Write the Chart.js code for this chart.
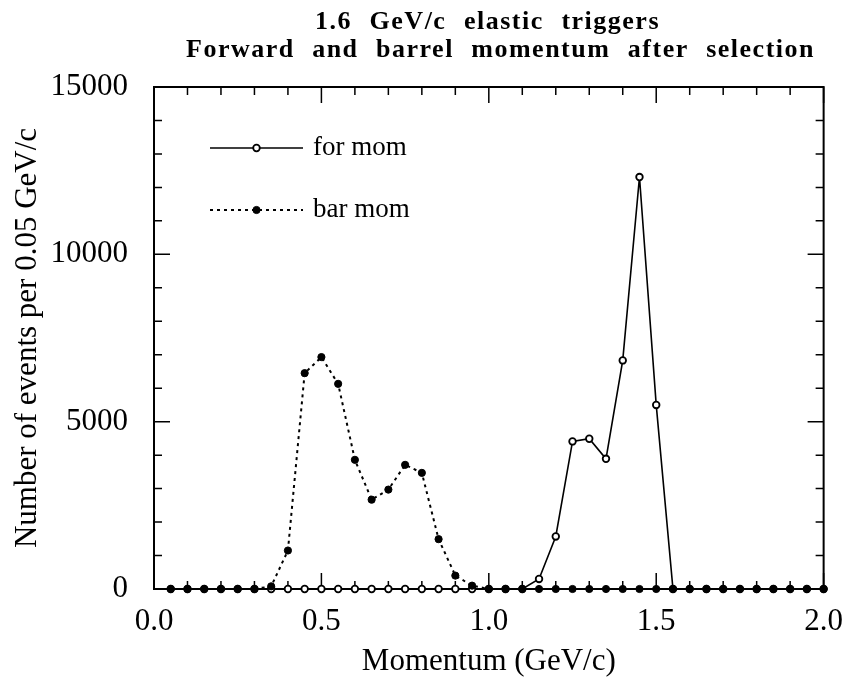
<!DOCTYPE html>
<html lang="en">
<head>
<meta charset="UTF-8">
<title>1.6 GeV/c elastic triggers</title>
<script src="https://cdn.jsdelivr.net/npm/chart.js"></script>
<style>
    html, body { margin: 0; padding: 0; background: #fff; }
</style>
</head>
<body>
<canvas id="grafico" width="857" height="684"></canvas>
<script>
// bin centres, 0.05 GeV/c wide
const momentum = [0.05, 0.10, 0.15, 0.20, 0.25, 0.30, 0.35, 0.40, 0.45, 0.50,
                  0.55, 0.60, 0.65, 0.70, 0.75, 0.80, 0.85, 0.90, 0.95, 1.00,
                  1.05, 1.10, 1.15, 1.20, 1.25, 1.30, 1.35, 1.40, 1.45, 1.50,
                  1.55, 1.60, 1.65, 1.70, 1.75, 1.80, 1.85, 1.90, 1.95, 2.00];
const forMom = [0, 0, 0, 0, 0, 0, 0, 0, 0, 0,
                0, 0, 0, 0, 0, 0, 0, 0, 0, 0,
                0, 0, 300, 1570, 4410, 4490, 3890, 6830, 12310, 5500,
                0, 0, 0, 0, 0, 0, 0, 0, 0, 0];
const barMom = [0, 0, 0, 0, 0, 0, 80, 1150, 6450, 6930,
                6130, 3860, 2670, 2970, 3710, 3470, 1490, 400, 100, 0,
                0, 0, 0, 0, 0, 0, 0, 0, 0, 0,
                0, 0, 0, 0, 0, 0, 0, 0, 0, 0];
const seriesNames = ['for mom', 'bar mom'];
const titleLines = ['1.6 GeV/c elastic triggers', 'Forward and barrel momentum after selection'];

const serif = "'Liberation Serif', 'Times New Roman', serif";

function pontos(valores) {
    return momentum.map((m, i) => ({x: m, y: valores[i]}));
}

// frame with inward ticks on all four sides, title and legend
const moldura = {
    id: 'moldura',
    beforeDatasetsDraw(chart) {
        const {ctx, chartArea: a, scales: {x, y}} = chart;
        ctx.save();
        ctx.strokeStyle = '#000';
        ctx.lineWidth = 2;
        ctx.strokeRect(a.left, a.top, a.right - a.left, a.bottom - a.top);
        ctx.lineWidth = 1.5;
        ctx.beginPath();
        for (let i = 0; i <= 20; i++) {
            const px = x.getPixelForValue(i / 10);
            const len = i % 5 === 0 ? 16 : 8;
            ctx.moveTo(px, a.bottom); ctx.lineTo(px, a.bottom - len);
            ctx.moveTo(px, a.top); ctx.lineTo(px, a.top + len);
        }
        for (let i = 0; i <= 15; i++) {
            const py = y.getPixelForValue(i * 1000);
            const len = i % 5 === 0 ? 16 : 8;
            ctx.moveTo(a.left, py); ctx.lineTo(a.left + len, py);
            ctx.moveTo(a.right, py); ctx.lineTo(a.right - len, py);
        }
        ctx.stroke();
        ctx.restore();
    },
    afterDraw(chart) {
        const {ctx} = chart;
        ctx.save();
        ctx.fillStyle = '#000';

        // title: words spread over a fixed width, like the original
        ctx.font = 'bold 26px ' + serif;
        ctx.letterSpacing = '1.5px';
        ctx.textBaseline = 'middle';
        ctx.textAlign = 'left';
        const linhas = [{y: 22, de: 315, ate: 660}, {y: 50, de: 186, ate: 815}];
        linhas.forEach((ln, l) => {
            const words = titleLines[l].split(' ');
            const widths = words.map(w => ctx.measureText(w).width);
            const soma = widths.reduce((s, w) => s + w, 0);
            const gap = (ln.ate - ln.de - soma) / (words.length - 1);
            let tx = ln.de;
            words.forEach((w, k) => {
                ctx.fillText(w, tx, ln.y);
                tx += widths[k] + gap;
            });
        });
        ctx.letterSpacing = '0px';

        // legend inside the plot
        [148, 210].forEach((ly, i) => {
            const ds = chart.data.datasets[i];
            ctx.strokeStyle = '#000';
            ctx.lineWidth = ds.borderWidth;
            ctx.setLineDash(ds.borderDash || []);
            ctx.beginPath();
            ctx.moveTo(210, ly); ctx.lineTo(303, ly);
            ctx.stroke();
            ctx.setLineDash([]);
            ctx.beginPath();
            ctx.arc(256.5, ly, ds.pointRadius, 0, Math.PI * 2);
            ctx.fillStyle = ds.pointBackgroundColor;
            ctx.fill();
            ctx.lineWidth = ds.pointBorderWidth;
            ctx.stroke();
            ctx.fillStyle = '#000';
            ctx.font = '27px ' + serif;
            ctx.fillText(ds.label, 313, ly);
        });
        ctx.restore();
    }
};

new Chart(document.getElementById('grafico'), {
    type: 'line',
    data: {
        datasets: [
            {
                label: seriesNames[0],
                data: pontos(forMom),
                borderColor: '#000',
                borderWidth: 1.6,
                pointRadius: 3.3,
                pointBorderWidth: 1.8,
                pointBackgroundColor: '#fff',
                pointBorderColor: '#000',
                tension: 0,
                clip: false,
                order: 1
            },
            {
                label: seriesNames[1],
                data: pontos(barMom),
                borderColor: '#000',
                borderWidth: 2,
                borderDash: [3, 4],
                pointRadius: 3.6,
                pointBorderWidth: 1,
                pointBackgroundColor: '#000',
                pointBorderColor: '#000',
                tension: 0,
                clip: false,
                order: 0
            }
        ]
    },
    options: {
        responsive: false,
        animation: false,
        devicePixelRatio: 1,
        layout: { padding: { top: 87, right: 24, left: 0, bottom: 0 } },
        plugins: {
            legend: { display: false },
            title: { display: false },
            tooltip: { enabled: false }
        },
        scales: {
            x: {
                type: 'linear',
                min: 0,
                max: 2,
                grid: { display: false, drawTicks: false },
                border: { display: false },
                ticks: {
                    stepSize: 0.5,
                    autoSkip: false,
                    maxRotation: 0,
                    padding: 14,
                    color: '#000',
                    font: { family: serif, size: 31 },
                    callback: v => v.toFixed(1)
                },
                title: {
                    display: true,
                    text: 'Momentum (GeV/c)',
                    color: '#000',
                    font: { family: serif, size: 31, lineHeight: 1 },
                    padding: { top: 0, bottom: 7 }
                },
                afterFit: s => { s.height = 95; }
            },
            y: {
                min: 0,
                max: 15000,
                grid: { display: false, drawTicks: false },
                border: { display: false },
                ticks: {
                    stepSize: 5000,
                    padding: 26,
                    color: '#000',
                    font: { family: serif, size: 31 },
                    callback: v => String(v)
                },
                title: {
                    display: true,
                    text: 'Number of events per 0.05 GeV/c',
                    color: '#000',
                    font: { family: serif, size: 31, lineHeight: 1 },
                    padding: { top: 12, bottom: 0 }
                },
                afterFit: s => { s.width = 154; }
            }
        }
    },
    plugins: [moldura]
});
</script>
</body>
</html>
